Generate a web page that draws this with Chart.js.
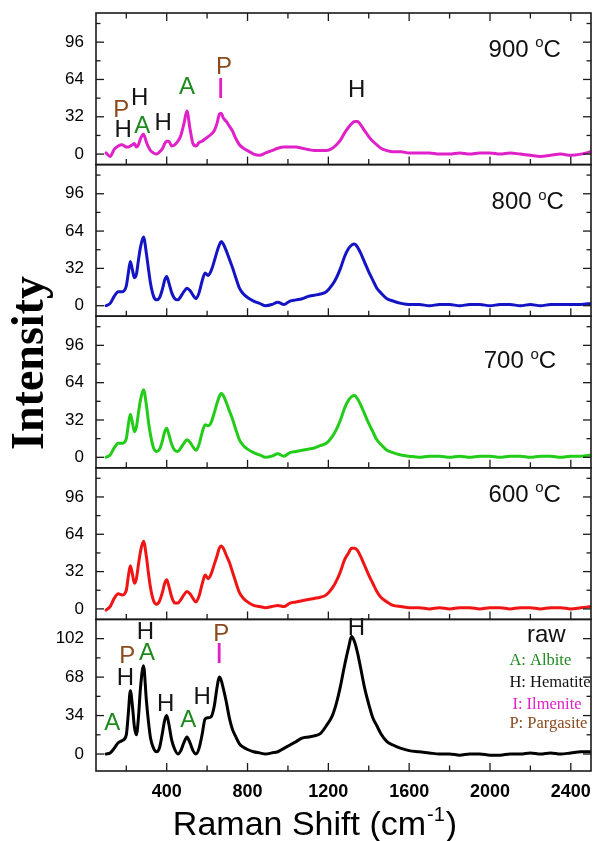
<!DOCTYPE html>
<html>
<head>
<meta charset="utf-8">
<script src="https://cdn.jsdelivr.net/npm/chart.js@4.4.1/dist/chart.umd.min.js"></script>
<style>
  html, body { margin: 0; padding: 0; background: #fff; }
  #wrap { position: relative; width: 594px; height: 841px; }
</style>
</head>
<body>
<div id="wrap"><canvas id="spectra"></canvas></div>
<script>
// Raman shift sampling (cm-1), shared by all spectra
const shifts = [
  100, 120, 140, 160, 180, 200, 210, 220, 230, 240,
  250, 260, 270, 285, 300, 310, 320, 335, 350, 365,
  380, 390, 400, 410, 425, 440, 455, 470, 485, 500,
  515, 530, 545, 560, 575, 590, 605, 620, 635, 650,
  660, 670, 680, 695, 710, 725, 740, 760, 780, 800,
  830, 860, 890, 920, 950, 980, 1010, 1040, 1070, 1100,
  1130, 1160, 1190, 1220, 1240, 1260, 1280, 1300, 1315, 1330,
  1345, 1360, 1380, 1400, 1420, 1440, 1460, 1490, 1520, 1560,
  1600, 1650, 1700, 1750, 1800, 1850, 1900, 1950, 2000, 2050,
  2100, 2150, 2200, 2250, 2300, 2350, 2400, 2450, 2500
];

// Intensities of each spectrum
const counts900 = [
  1, -2, 4, 7, 8, 6, 6, 7, 8, 9,
  6, 8, 13, 17, 10, 6, 3, 1, 0, 2,
  5, 9, 11, 11, 7, 8, 11, 16, 26, 37,
  22, 9, 7, 10, 11, 13, 15, 17, 20, 27,
  34, 35, 31, 28, 24, 20, 14, 8, 5, 3,
  0, -1, 1, 3, 5, 6, 6, 6, 5, 4,
  3, 3, 3, 5, 8, 12, 18, 23, 26, 28,
  28, 25, 20, 15, 11, 8, 5, 3, 2, 2,
  1, 1, 1, 0, 0, 1, 0, 1, 1, 0,
  1, 0, -1, -2, -1, 0, -1, 0, 2
];
const counts800 = [
  0, 2, 8, 12, 12, 17, 28, 38, 31, 24,
  27, 39, 50, 59, 44, 31, 19, 8, 5, 7,
  15, 22, 25, 20, 11, 6, 5, 8, 12, 15,
  13, 9, 6, 11, 21, 28, 26, 30, 38, 47,
  52, 55, 53, 47, 40, 33, 25, 15, 10, 7,
  4, 2, 0, 1, 3, 1, 4, 5, 6, 8,
  9, 10, 12, 18, 24, 32, 42, 49, 52, 53,
  50, 45, 37, 29, 22, 15, 11, 6, 4, 2,
  1, 1, 0, 1, 1, 0, 1, 1, 0, 1,
  1, 0, 1, 0, 1, 1, 1, 1, 2
];
const counts700 = [
  0, 2, 8, 12, 12, 16, 28, 37, 30, 22,
  26, 38, 49, 58, 44, 30, 19, 8, 5, 7,
  15, 22, 25, 20, 11, 6, 5, 8, 12, 15,
  13, 9, 6, 11, 21, 28, 27, 30, 38, 47,
  52, 55, 53, 47, 40, 33, 25, 15, 10, 7,
  4, 2, 0, 1, 3, 1, 4, 5, 6, 7,
  8, 10, 12, 18, 24, 32, 42, 49, 52, 53,
  50, 45, 37, 29, 22, 15, 11, 6, 4, 2,
  1, 0, 1, 1, 0, 1, 0, 1, 1, 0,
  1, 1, 0, 1, 1, 0, 1, 1, 2
];
const counts600 = [
  -1, 2, 9, 13, 12, 16, 28, 37, 30, 22,
  26, 38, 49, 58, 44, 30, 18, 7, 4, 7,
  15, 22, 25, 20, 10, 5, 5, 8, 12, 15,
  13, 9, 6, 11, 21, 29, 26, 30, 38, 46,
  52, 54, 52, 46, 40, 32, 24, 14, 9, 6,
  3, 2, 1, 2, 3, 2, 5, 6, 7, 8,
  9, 10, 12, 18, 24, 32, 42, 48, 52, 52,
  50, 45, 37, 29, 22, 15, 10, 6, 3, 2,
  1, 1, 0, 1, 0, 1, 1, 0, 1, 1,
  0, 1, 1, 0, 1, 1, 0, 1, 2
];
const countsRaw = [
  0, 1, 5, 10, 12, 17, 36, 56, 43, 24,
  17, 32, 58, 78, 46, 28, 14, 5, 2, 6,
  20, 30, 34, 27, 12, 4, 0, 3, 10, 15,
  10, 3, 0, 5, 17, 31, 32, 33, 42, 60,
  68, 65, 58, 46, 32, 22, 16, 9, 6, 4,
  2, 1, 0, 1, 2, 5, 8, 11, 14, 15,
  16, 18, 25, 34, 45, 60, 78, 94, 104, 99,
  89, 76, 58, 44, 32, 25, 18, 11, 8, 5,
  3, 2, 1, 0, 0, -1, 0, 0, -1, -1,
  0, 0, 1, 0, 1, 0, 1, 2, 2
];

// Tick values
const shiftTicks = [400, 800, 1200, 1600, 2000, 2400];
const shiftMinor = [200, 600, 1000, 1400, 1800, 2200];
const intensityTicks = [0, 32, 64, 96];
const intensityMinor = [16, 48, 80, 112];
const rawTicks = [0, 34, 68, 102];
const rawMinor = [17, 51, 85];

const SANS = '"Liberation Sans", Arial, Helvetica, sans-serif';
const SERIF = '"Liberation Serif", "Times New Roman", serif';

// Panels, top to bottom
const panels = [
  { id: 'y900', values: counts900, color: '#E020C8', min: -9, max: 121, major: intensityTicks, minor: intensityMinor },
  { id: 'y800', values: counts800, color: '#1414C4', min: -9, max: 121, major: intensityTicks, minor: intensityMinor },
  { id: 'y700', values: counts700, color: '#22CC18', min: -9, max: 121, major: intensityTicks, minor: intensityMinor },
  { id: 'y600', values: counts600, color: '#F01414', min: -9, max: 121, major: intensityTicks, minor: intensityMinor },
  { id: 'yRaw', values: countsRaw, color: '#000000', min: -15, max: 119, major: rawTicks, minor: rawMinor }
];

const mineralColors = { A: '#1E8A1E', H: '#141414', I: '#E020C8', P: '#8A4A1E' };

// Phase assignments: [panel, letter, shift, intensity]
const peakMarks = [
  ['y900', 'P', 175, 37.5], ['y900', 'H', 185, 20], ['y900', 'H', 266, 48],
  ['y900', 'A', 279, 24], ['y900', 'H', 382, 26], ['y900', 'A', 501, 57],
  ['y900', 'P', 684, 74], ['y900', 'I', 667, 55], ['y900', 'H', 1340, 55],
  ['yRaw', 'A', 130, 27], ['yRaw', 'H', 195, 67], ['yRaw', 'P', 205, 86],
  ['yRaw', 'H', 295, 107.5], ['yRaw', 'A', 302, 89], ['yRaw', 'H', 395, 43.5],
  ['yRaw', 'A', 506, 30], ['yRaw', 'H', 575, 50], ['yRaw', 'P', 670, 106],
  ['yRaw', 'I', 659, 88], ['yRaw', 'H', 1339, 111]
];

// Annealing temperature of each panel: [panel, temperature, shift, intensity]
const sampleNames = [
  ['y900', '900', 2172, 89],
  ['y800', '800', 2187, 88.5],
  ['y700', '700', 2148, 82],
  ['y600', '600', 2172, 97.6]
];

const phaseKey = [
  ['A', 'A: Albite', 2096, 79],
  ['H', 'H: Hematite', 2096, 59.5],
  ['I', 'I: Ilmenite', 2111, 40],
  ['P', 'P: Pargasite', 2096, 23.4]
];

const scales = {
  x: {
    type: 'linear', position: 'bottom', min: 50, max: 2500,
    afterBuildTicks: s => { s.ticks = shiftTicks.map(v => ({ value: v })); },
    afterFit: s => { s.height = 70; s.paddingLeft = 0; s.paddingRight = 0; },
    grid: { display: false, drawTicks: false },
    border: { display: false },
    ticks: { color: '#000', padding: 10, autoSkip: false, maxRotation: 0,
             callback: v => String(v),
             font: { family: SANS, size: 18, weight: 'bold' } }
  }
};
[...panels].reverse().forEach(p => {
  scales[p.id] = {
    type: 'linear', position: 'left', stack: 'panels', stackWeight: 1,
    min: p.min, max: p.max,
    afterBuildTicks: s => { s.ticks = p.major.map(v => ({ value: v })); },
    afterFit: s => { s.width = 96; s.paddingTop = 0; s.paddingBottom = 0; },
    grid: { display: false, drawTicks: false },
    border: { display: false },
    ticks: { color: '#000', padding: 12, autoSkip: false, callback: v => String(v),
             font: { family: SANS, size: 17 } }
  };
});

// "T oC" with a raised small o, centred on (cx, cy)
function drawTemperature(ctx, temp, cx, cy) {
  const big = '24px ' + SANS, small = '15px ' + SANS;
  ctx.font = big;
  const wt = ctx.measureText(temp + ' ').width;
  const wc = ctx.measureText('C').width;
  ctx.font = small;
  const wo = ctx.measureText('o').width;
  let x = cx - (wt + wo + wc) / 2;
  ctx.textAlign = 'left';
  ctx.textBaseline = 'middle';
  ctx.font = big;
  ctx.fillText(temp + ' ', x, cy);
  ctx.font = small;
  ctx.fillText('o', x + wt, cy - 7);
  ctx.font = big;
  ctx.fillText('C', x + wt + wo, cy);
}

const decorations = {
  id: 'decorations',
  afterDatasetsDraw(chart) {
    const { ctx, scales: sc } = chart;
    const xs = sc.x;
    ctx.save();

    // phase letters
    ctx.textAlign = 'center';
    ctx.textBaseline = 'middle';
    peakMarks.forEach(([axis, letter, sx, sy]) => {
      const ys = sc[axis];
      ctx.font = (letter === 'I' ? '30px ' : '24px ') + SANS;
      ctx.fillStyle = mineralColors[letter];
      ctx.fillText(letter, xs.getPixelForValue(sx), ys.getPixelForValue(sy));
    });

    // sample names
    ctx.fillStyle = '#111';
    sampleNames.forEach(([axis, temp, sx, sy]) => {
      drawTemperature(ctx, temp, xs.getPixelForValue(sx), sc[axis].getPixelForValue(sy));
    });
    ctx.font = '24px ' + SANS;
    ctx.textAlign = 'center';
    ctx.textBaseline = 'alphabetic';
    ctx.fillText('raw', xs.getPixelForValue(2279), sc.yRaw.getPixelForValue(98.6));

    // phase key
    ctx.textAlign = 'left';
    ctx.font = '16.5px ' + SERIF;
    phaseKey.forEach(([letter, text, sx, sy]) => {
      ctx.fillStyle = mineralColors[letter];
      ctx.fillText(text, xs.getPixelForValue(sx), sc.yRaw.getPixelForValue(sy));
    });

    // frames and inward ticks
    ctx.strokeStyle = '#1a1a1a';
    ctx.lineWidth = 1.3;
    const seg = (x1, y1, x2, y2) => { ctx.beginPath(); ctx.moveTo(x1, y1); ctx.lineTo(x2, y2); ctx.stroke(); };
    panels.forEach((p, i) => {
      const ys = sc[p.id];
      [[p.major, 8], [p.minor, 4.5]].forEach(([vals, len]) => {
        vals.forEach(v => {
          const py = ys.getPixelForValue(v);
          seg(xs.left, py, xs.left + len, py);
          seg(xs.right, py, xs.right - len, py);
        });
      });
      [[shiftTicks, 8], [shiftMinor, 5.5]].forEach(([vals, len]) => {
        vals.forEach(v => {
          const px = xs.getPixelForValue(v);
          seg(px, ys.bottom, px, ys.bottom - len);
          if (i === 0) seg(px, ys.top, px, ys.top + len);
        });
      });
      ctx.lineWidth = 1.6;
      ctx.strokeRect(xs.left, ys.top, xs.right - xs.left, ys.bottom - ys.top);
      ctx.lineWidth = 1.3;
    });

    // axis titles
    ctx.fillStyle = '#000';
    ctx.save();
    ctx.translate(31, 363);
    ctx.rotate(-Math.PI / 2);
    ctx.textAlign = 'center';
    ctx.textBaseline = 'middle';
    ctx.font = 'bold 46px ' + SERIF;
    ctx.fillText('Intensity', 0, 0);
    ctx.restore();

    const main = 'Raman Shift (cm', sup = '-1', close = ')';
    ctx.textAlign = 'left';
    ctx.textBaseline = 'alphabetic';
    ctx.font = '34px ' + SANS;
    const w1 = ctx.measureText(main).width, w3 = ctx.measureText(close).width;
    ctx.font = '20px ' + SANS;
    const w2 = ctx.measureText(sup).width;
    let x0 = 314 - (w1 + w2 + w3) / 2;
    const base = 835;
    ctx.font = '34px ' + SANS;
    ctx.fillText(main, x0, base);
    ctx.font = '20px ' + SANS;
    ctx.fillText(sup, x0 + w1 + 1, base - 14);
    ctx.font = '34px ' + SANS;
    ctx.fillText(close, x0 + w1 + w2 + 2, base);

    ctx.restore();
  }
};

new Chart(document.getElementById('spectra'), {
  type: 'line',
  data: {
    datasets: panels.map(p => ({
      data: shifts.map((s, i) => ({ x: s, y: p.values[i] })),
      xAxisID: 'x',
      yAxisID: p.id,
      borderColor: p.color,
      borderWidth: 3,
      pointRadius: 0,
      fill: false,
      cubicInterpolationMode: 'monotone',
      borderJoinStyle: 'round',
      borderCapStyle: 'round'
    }))
  },
  options: {
    responsive: true,
    maintainAspectRatio: false,
    animation: false,
    layout: { padding: { left: 0, right: 3, top: 13, bottom: 0 } },
    plugins: { legend: { display: false }, tooltip: { enabled: false } },
    scales
  },
  plugins: [decorations]
});
</script>
</body>
</html>
